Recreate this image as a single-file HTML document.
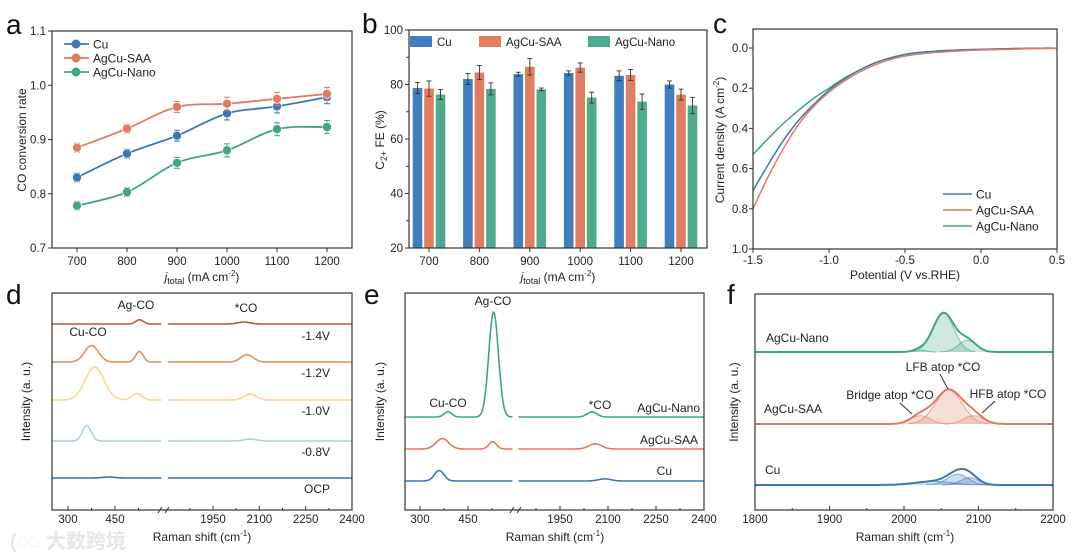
<!DOCTYPE html>
<html><head><meta charset="utf-8">
<style>
html,body{margin:0;padding:0;background:#fff;}
svg{display:block;font-family:"Liberation Sans",Arial,sans-serif;}
.t{font-size:11.5px;fill:#222;}
.ax{font-size:12px;fill:#222;}
.lt{font-size:28px;fill:#111;}
</style></head>
<body>
<svg id="fig" width="1080" height="559" viewBox="0 0 1080 559" xmlns="http://www.w3.org/2000/svg">
<text x="6" y="34" class="lt">a</text>
<text x="362" y="33" class="lt">b</text>
<text x="713" y="33" class="lt">c</text>
<text x="6" y="304" class="lt">d</text>
<text x="364" y="304" class="lt">e</text>
<text x="727" y="304" class="lt">f</text>
<g>
<text x="10" y="548" style="font-size:20px;fill:#e6e6e6;font-family:'Liberation Sans','Noto Sans CJK SC',sans-serif;font-weight:bold">(◌◌ 大数跨境</text>
</g>
</svg>
<script>
// ---------- DATA ----------
var aCats=[700,800,900,1000,1100,1200];
var aCu=[0.830,0.874,0.907,0.948,0.961,0.978];
var aSAA=[0.885,0.920,0.960,0.966,0.975,0.984];
var aNano=[0.778,0.803,0.857,0.880,0.919,0.923];
var aErr=[0.008,0.008,0.010,0.012,0.012,0.012];
var aYTicks=[0.7,0.8,0.9,1.0,1.1];

var bCats=[700,800,900,1000,1100,1200];
var bCu=[78.7,82.0,83.8,84.2,83.2,80.0];
var bSAA=[78.5,84.4,86.5,86.2,83.5,76.3];
var bNano=[76.3,78.4,78.2,75.2,73.7,72.3];
var bErrCu=[2,2,0.7,0.8,1.8,1.3];
var bErrSAA=[2.8,2.6,3,1.7,2,2];
var bErrNano=[1.8,2.2,0.5,2,2.8,3];
var bYTicks=[20,40,60,80,100];

var cV=[-1.5,-1.4,-1.3,-1.2,-1.1,-1.0,-0.9,-0.8,-0.7,-0.6,-0.5,-0.4,-0.3,-0.2,-0.1,0,0.1,0.2,0.3,0.4,0.5];
var cCu=[0.71,0.58,0.46,0.36,0.28,0.21,0.155,0.11,0.075,0.05,0.032,0.022,0.016,0.012,0.009,0.007,0.005,0.003,0.002,0.001,0.001];
var cSAA=[0.80,0.64,0.50,0.38,0.29,0.22,0.165,0.12,0.085,0.058,0.04,0.03,0.022,0.017,0.013,0.01,0.008,0.006,0.004,0.003,0.002];
var cNano=[0.53,0.45,0.375,0.31,0.25,0.20,0.15,0.11,0.075,0.05,0.032,0.022,0.016,0.012,0.009,0.007,0.005,0.003,0.002,0.001,0.001];
var cXTicks=[-1.5,-1.0,-0.5,0.0,0.5];
var cYTicks=[0.0,0.2,0.4,0.6,0.8,1.0];

// Raman peaks: [center cm-1, height (a.u.), sigma]
var dLabels=["-1.4V","-1.2V","-1.0V","-0.8V","OCP"];
var dOffsets=[4,3,2,1,0];
var dPeaks=[
 [[528,0.13,12],[2050,0.06,20]],
 [[375,0.5,22],[528,0.32,12],[2060,0.22,20]],
 [[385,1.0,30],[520,0.2,16],[2070,0.18,20]],
 [[360,0.47,14],[2070,0.06,20]],
 [[430,0.03,20]]
];
var eLabels=["AgCu-Nano","AgCu-SAA","Cu"];
var eOffsets=[2,1,0];
var ePeaks=[
 [[387,0.05,12],[530,1.0,15],[2050,0.05,15]],
 [[370,0.1,20],[527,0.07,12],[2060,0.05,20]],
 [[360,0.1,15],[2090,0.02,20]]
];
var fLabels=["AgCu-Nano","AgCu-SAA","Cu"];
var fPeaks=[
 [[2020,0.05,8],[2053,1.0,14],[2085,0.3,12]],
 [[2022,0.22,13],[2060,0.9,18],[2093,0.22,13]],
 [[2040,0.1,25],[2072,0.3,14],[2088,0.2,12]]
];

// ---------- HELPERS ----------
var NS="http://www.w3.org/2000/svg";
var svg=document.getElementById('fig');
function el(tag,attrs,parent){var e=document.createElementNS(NS,tag);for(var k in attrs)e.setAttribute(k,attrs[k]);(parent||svg).appendChild(e);return e;}
function txt(x,y,s,cls,anchor,parent){var t=el('text',{x:x,y:y,'class':cls||'t','text-anchor':anchor||'middle'},parent);t.textContent=s;return t;}
function lin(d0,d1,r0,r1){return function(v){return r0+(v-d0)*(r1-r0)/(d1-d0);};}
function smooth(pts){var d='M'+pts[0][0]+','+pts[0][1];for(var i=0;i<pts.length-1;i++){var p0=pts[i-1]||pts[i],p1=pts[i],p2=pts[i+1],p3=pts[i+2]||p2;var c1x=p1[0]+(p2[0]-p0[0])/6,c1y=p1[1]+(p2[1]-p0[1])/6,c2x=p2[0]-(p3[0]-p1[0])/6,c2y=p2[1]-(p3[1]-p1[1])/6;d+='C'+c1x+','+c1y+' '+c2x+','+c2y+' '+p2[0]+','+p2[1];}return d;}
function gauss(x,peaks){var s=0;peaks.forEach(function(p){s+=p[1]*Math.exp(-0.5*Math.pow((x-p[0])/p[2],2));});return s;}
function frame(x0,y0,x1,y1,name){var r=el('rect',{x:x0,y:y0,width:x1-x0,height:y1-y0,fill:'none',stroke:'#333','stroke-width':1.2});return r;}
var CB='#3d78b3',CR='#e07a60',CG='#3ea688';

// ---------- PANEL A ----------
(function(){
 var g=el('g',{});
 var X=lin(650,1250,52,352),Y=lin(0.7,1.1,248,31);
 frame(52,31,352,248,'panel-a-frame');
 aYTicks.forEach(function(v){el('line',{x1:52,x2:48,y1:Y(v),y2:Y(v),stroke:'#333'},g);var t=txt(46,Y(v)+4,v.toFixed(1),'t','end',g);});
 aCats.forEach(function(v){el('line',{x1:X(v),x2:X(v),y1:248,y2:252,stroke:'#333'},g);var t=txt(X(v),265,v,'t','middle',g);});
 var yt=txt(0,0,'CO conversion rate','ax','middle',g);yt.setAttribute('transform','translate(26,140) rotate(-90)');
 var xt=el('text',{x:202,y:281,'class':'ax','text-anchor':'middle'},g);xt.innerHTML='<tspan font-style="italic">j</tspan><tspan font-size="9" dy="3">total</tspan><tspan dy="-3"> (mA cm</tspan><tspan font-size="8" dy="-5">-2</tspan><tspan dy="5">)</tspan>';
 [[aCu,CB,'series-cu'],[aSAA,CR,'series-agcu-saa'],[aNano,CG,'series-agcu-nano']].forEach(function(s){
  var pts=aCats.map(function(c,i){return [X(c),Y(s[0][i])];});
  var p=el('path',{d:smooth(pts),fill:'none',stroke:s[1],'stroke-width':1.8},g);
  aCats.forEach(function(c,i){var x=X(c);el('line',{x1:x,x2:x,y1:Y(s[0][i]-aErr[i]),y2:Y(s[0][i]+aErr[i]),stroke:s[1],'stroke-width':1},g);el('line',{x1:x-3,x2:x+3,y1:Y(s[0][i]+aErr[i]),y2:Y(s[0][i]+aErr[i]),stroke:s[1]},g);el('line',{x1:x-3,x2:x+3,y1:Y(s[0][i]-aErr[i]),y2:Y(s[0][i]-aErr[i]),stroke:s[1]},g);
   var m=el('circle',{cx:x,cy:Y(s[0][i]),r:4.5,fill:s[1],stroke:'#fff','stroke-width':0.6},g);});
 });
 [['Cu',CB],['AgCu-SAA',CR],['AgCu-Nano',CG]].forEach(function(l,i){var y=44+i*14;var lg=el('g',{},g);el('line',{x1:64,x2:89,y1:y,y2:y,stroke:l[1],'stroke-width':1.8},lg);el('circle',{cx:76,cy:y,r:4.5,fill:l[1]},lg);txt(93,y+4.5,l[0],'ax','start',lg);});
})();

// ---------- PANEL B ----------
(function(){
 var g=el('g',{});
 var X=lin(700,1200,429,681),Y=lin(20,100,248,30);
 frame(409,30,707,248,'panel-b-frame');
 bYTicks.forEach(function(v){el('line',{x1:409,x2:405,y1:Y(v),y2:Y(v),stroke:'#333'},g);var t=txt(403,Y(v)+4,v,'t','end',g);});
 [30,50,70,90].forEach(function(v){el('line',{x1:409,x2:406,y1:Y(v),y2:Y(v),stroke:'#333'},g);});
 bCats.forEach(function(v){el('line',{x1:X(v),x2:X(v),y1:248,y2:252,stroke:'#333'},g);var t=txt(X(v),265,v,'t','middle',g);});
 var yt=el('text',{'class':'ax','text-anchor':'middle',transform:'translate(384,140) rotate(-90)'},g);yt.innerHTML='C<tspan font-size="9" dy="3">2+</tspan><tspan dy="-3"> FE (%)</tspan>';
 var xt=el('text',{x:558,y:281,'class':'ax','text-anchor':'middle'},g);xt.innerHTML='<tspan font-style="italic">j</tspan><tspan font-size="9" dy="3">total</tspan><tspan dy="-3"> (mA cm</tspan><tspan font-size="8" dy="-5">-2</tspan><tspan dy="5">)</tspan>';
 var series=[[bCu,bErrCu,'#3f7fbf',-11.5,'cu'],[bSAA,bErrSAA,'#e27d62',0,'agcu-saa'],[bNano,bErrNano,'#4fab8f',11.5,'agcu-nano']];
 series.forEach(function(s){bCats.forEach(function(c,i){var cx=X(c)+s[3];var r=el('rect',{x:cx-4.8,y:Y(s[0][i]),width:9.6,height:248-Y(s[0][i]),fill:s[2]},g);
  var t=Y(s[0][i]+s[1][i]),b=Y(s[0][i]-s[1][i]);el('line',{x1:cx,x2:cx,y1:t,y2:b,stroke:'#333','stroke-width':0.9},g);el('line',{x1:cx-2.5,x2:cx+2.5,y1:t,y2:t,stroke:'#333','stroke-width':0.9},g);el('line',{x1:cx-2.5,x2:cx+2.5,y1:b,y2:b,stroke:'#333','stroke-width':0.9},g);});});
 [['Cu','#3f7fbf',410],['AgCu-SAA','#e27d62',479],['AgCu-Nano','#4fab8f',588]].forEach(function(l){var lg=el('g',{},g);el('rect',{x:l[2],y:36,width:22,height:11,fill:l[1]},lg);txt(l[2]+27,46,l[0],'t','start',lg);});
})();

// ---------- PANEL C ----------
(function(){
 var g=el('g',{});
 var X=lin(-1.5,0.5,753,1057),Y=lin(0,1,48,249);
 frame(753,29,1057,249,'panel-c-frame');
 cYTicks.forEach(function(v){el('line',{x1:753,x2:749,y1:Y(v),y2:Y(v),stroke:'#333'},g);var t=txt(748,Y(v)+4,v.toFixed(1),'t','end',g);});
 cXTicks.forEach(function(v){el('line',{x1:X(v),x2:X(v),y1:249,y2:253,stroke:'#333'},g);var t=txt(X(v),264,v.toFixed(1),'t','middle',g);});
 var yt=el('text',{'class':'ax','text-anchor':'middle',transform:'translate(724,140) rotate(-90)'},g);yt.innerHTML='Current density (A cm<tspan font-size="8" dy="-5">-2</tspan><tspan dy="5">)</tspan>';
 var xt=txt(905,279,'Potential (V vs.RHE)','ax','middle',g);
 [[cNano,CG,'agcu-nano'],[cCu,CB,'cu'],[cSAA,CR,'agcu-saa']].forEach(function(s){var pts=cV.map(function(v,i){return [X(v),Y(s[0][i])];});var p=el('path',{d:smooth(pts),fill:'none',stroke:s[1],'stroke-width':1.5},g);});
 [['Cu',CB],['AgCu-SAA',CR],['AgCu-Nano',CG]].forEach(function(l,i){var y=194+i*16;var lg=el('g',{},g);el('line',{x1:943,x2:972,y1:y,y2:y,stroke:l[1],'stroke-width':1.6},lg);txt(976,y+4.5,l[0],'ax','start',lg);});
})();

// ---------- RAMAN BROKEN-AXIS PANELS ----------
function brokenPanel(opt){
 var g=el('g',{});
 var XL=lin(300,450,opt.x300,opt.x450),XR=lin(1950,2400,opt.x1950,opt.x2400);
 frame(opt.x0,opt.y0,opt.x1,opt.y1,opt.name+'-frame');
 el('rect',{x:opt.bL-1,y:opt.y1-2,width:opt.bR-opt.bL+2,height:4,fill:'#fff'},g);
 el('line',{x1:opt.bL-3,x2:opt.bL+1,y1:opt.y1+3,y2:opt.y1-3,stroke:'#333'},g);el('line',{x1:opt.bR-1,x2:opt.bR+3,y1:opt.y1+3,y2:opt.y1-3,stroke:'#333'},g);
 [300,450].forEach(function(v){el('line',{x1:XL(v),x2:XL(v),y1:opt.y1,y2:opt.y1-4,stroke:'#333'},g);var t=txt(XL(v),opt.y1+13,v,'t','middle',g);});
 [375,525].forEach(function(v){el('line',{x1:XL(v),x2:XL(v),y1:opt.y1,y2:opt.y1-2,stroke:'#333'},g);});
 [1950,2100,2250,2400].forEach(function(v){el('line',{x1:XR(v),x2:XR(v),y1:opt.y1,y2:opt.y1-4,stroke:'#333'},g);var t=txt(XR(v),opt.y1+13,v,'t','middle',g);});
 [1875,2025,2175,2325].forEach(function(v){el('line',{x1:XR(v),x2:XR(v),y1:opt.y1,y2:opt.y1-2,stroke:'#333'},g);});
 var xt=el('text',{x:opt.xtx,y:opt.y1+31,'class':'ax','text-anchor':'middle'},g);xt.innerHTML='Raman shift (cm<tspan font-size="8" dy="-5">-1</tspan><tspan dy="5">)</tspan>';
 var yt=txt(0,0,'Intensity (a. u.)','ax','middle',g);yt.setAttribute('transform','translate('+opt.ytx+','+((opt.y0+opt.y1)/2)+') rotate(-90)');
 opt.peaks.forEach(function(pk,i){var base=opt.base(opt.offsets[i]);var dl='',dr='';
  for(var v=opt.lmin;v<=opt.lmax;v+=3){var y=base-opt.scale*gauss(v,pk);dl+=(dl?'L':'M')+XL(v).toFixed(1)+','+y.toFixed(1);}
  for(var v=1800;v<=2400;v+=4){var y=base-opt.scale*gauss(v,pk);if(XR(v)<opt.rStart)continue;dr+=(dr?'L':'M')+XR(v).toFixed(1)+','+y.toFixed(1);}
  var p1=el('path',{d:dl,fill:'none',stroke:opt.colors[i],'stroke-width':1.6},g);
  var p2=el('path',{d:dr,fill:'none',stroke:opt.colors[i],'stroke-width':1.6},g);
 });
 return g;
}
(function(){
 var g=brokenPanel({name:'panel-d-chart',x0:52,y0:293,x1:352,y1:510,x300:68,x450:115,x1950:213,x2400:352,bL:161,bR:166,xtx:202,ytx:30,
  lmin:250,lmax:598,rStart:167,peaks:dPeaks,offsets:dOffsets,labels:dLabels,scale:33,
  base:function(o){return [478,441,400,362,324][o];},colors:['#c4513f','#e48f5c','#f6d88e','#a9d2e4','#3f6fa8']});
 [['Ag-CO',136,309],['*CO',246,312],['Cu-CO',88,336]].forEach(function(a){var t=txt(a[1],a[2],a[0],'ax','middle',g);});
 dLabels.forEach(function(l,i){var t=txt(330,[340,377,415,456,493][i],l,'ax','end',g);});
})();
(function(){
 var g=brokenPanel({name:'panel-e-chart',x0:405,y0:293,x1:704,y1:510,x300:420,x450:468,x1950:560,x2400:704,bL:513,bR:518,xtx:555,ytx:384,
  lmin:253,lmax:590,rStart:518,peaks:ePeaks,offsets:eOffsets,labels:eLabels,scale:105,
  base:function(o){return [481,449,417][o];},colors:['#3ea688','#e07a60','#3d78b3']});
 [['Ag-CO',493,305],['Cu-CO',448,407],['*CO',600,409]].forEach(function(a){var t=txt(a[1],a[2],a[0],'ax','middle',g);});
 [['AgCu-Nano',700,412],['AgCu-SAA',698,444],['Cu',672,475]].forEach(function(a){var t=txt(a[1],a[2],a[0],'ax','end',g);});
})();

// ---------- PANEL F ----------
(function(){
 var g=el('g',{});
 var X=lin(1800,2200,755,1053);
 frame(755,294,1053,510,'panel-f-frame');
 [1800,1900,2000,2100,2200].forEach(function(v){el('line',{x1:X(v),x2:X(v),y1:510,y2:506,stroke:'#333'},g);var t=txt(X(v),523,v,'t','middle',g);});
 [1850,1950,2050,2150].forEach(function(v){el('line',{x1:X(v),x2:X(v),y1:510,y2:508,stroke:'#333'},g);});
 var xt=el('text',{x:905,y:541,'class':'ax','text-anchor':'middle'},g);xt.innerHTML='Raman shift (cm<tspan font-size="8" dy="-5">-1</tspan><tspan dy="5">)</tspan>';
 var yt=txt(0,0,'Intensity (a. u.)','ax','middle',g);yt.setAttribute('transform','translate(738,402) rotate(-90)');
 var bases=[352,424,485],scales=[39,38,36],cols=['#3ea688','#e07a60','#3d78b3'];
 fPeaks.forEach(function(pk,i){var b=bases[i],s=scales[i];
  pk.forEach(function(p){var d='M'+X(p[0]-3*p[2])+','+b;for(var v=p[0]-3*p[2];v<=p[0]+3*p[2];v+=2){d+='L'+X(v).toFixed(1)+','+(b-s*gauss(v,[p])).toFixed(1);}d+='L'+X(p[0]+3*p[2])+','+b;
   var f=el('path',{d:d,fill:cols[i],'fill-opacity':0.25,stroke:cols[i],'stroke-opacity':0.6,'stroke-width':1},g);});
  var d='';for(var v=1800;v<=2200;v+=2){d+=(d?'L':'M')+X(v).toFixed(1)+','+(b-s*gauss(v,pk)).toFixed(1);}
  var p=el('path',{d:d,fill:'none',stroke:cols[i],'stroke-width':2},g);
 });
 [['AgCu-Nano',766,342],['AgCu-SAA',764,413],['Cu',765,474]].forEach(function(a){var t=txt(a[1],a[2],a[0],'ax','start',g);});
 [['LFB atop *CO',943,371],['Bridge atop *CO',890,399],['HFB atop *CO',1008,398]].forEach(function(a){var t=txt(a[1],a[2],a[0],'ax','middle',g);});
 [[940,374,948,389],[900,403,912,414],[995,401,982,413]].forEach(function(a){el('line',{x1:a[0],y1:a[1],x2:a[2],y2:a[3],stroke:'#333','stroke-width':1},g);});
})();
</script>
</body></html>
